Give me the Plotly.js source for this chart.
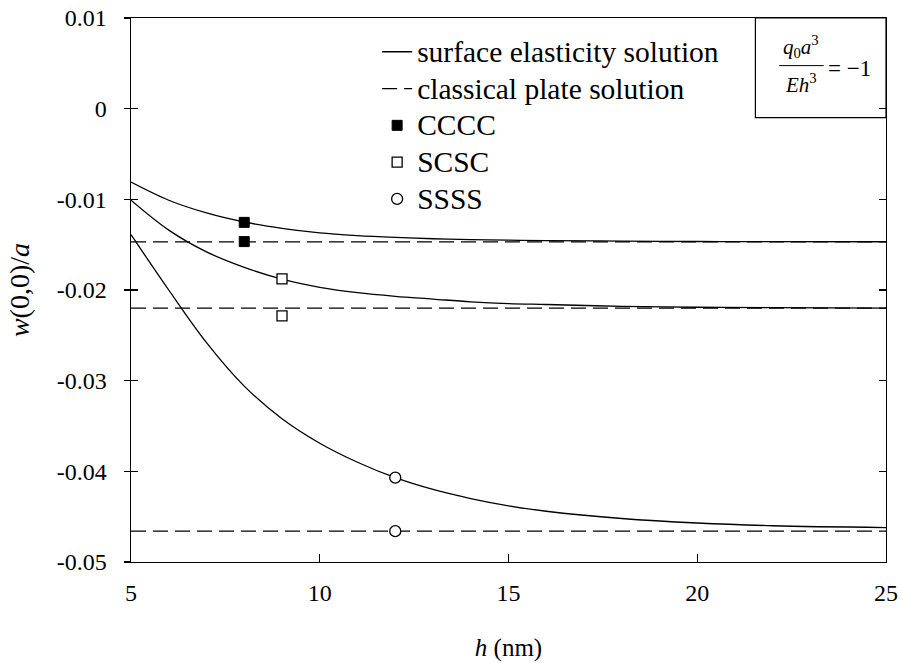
<!DOCTYPE html>
<html>
<head>
<meta charset="utf-8">
<script src="https://cdn.plot.ly/plotly-3.0.1.min.js"></script>
<style>html,body{margin:0;padding:0;background:#fff;}#chart{width:903px;height:663px;}</style>
</head>
<body>
<div id="chart"></div>
<script>
// thickness h (nm)
const hValues = [5, 6, 7, 8, 9, 10, 11, 12, 13, 14, 15, 16, 18, 20, 22, 25];
// surface elasticity solution w(0,0)/a
const surfCCCC = [-0.0081, -0.0101, -0.0115, -0.0125, -0.0132, -0.0137, -0.0140, -0.0142, -0.01435, -0.01445, -0.0145, -0.01455, -0.0146, -0.01465, -0.01467, -0.01468];
const surfSCSC = [-0.0101, -0.0134, -0.0158, -0.0175, -0.0188, -0.0197, -0.0203, -0.0207, -0.0210, -0.0213, -0.0215, -0.0216, -0.0218, -0.0219, -0.02195, -0.0220];
const surfSSSS = [-0.0139, -0.0200, -0.0258, -0.0306, -0.0342, -0.0369, -0.0390, -0.0407, -0.0420, -0.0430, -0.0438, -0.0444, -0.0452, -0.0457, -0.0460, -0.0462];
// classical plate solution (constant)
const classicalH = [5, 25];
const classicalCCCC = [-0.0147, -0.0147];
const classicalSCSC = [-0.0220, -0.0220];
const classicalSSSS = [-0.0466, -0.0466];
// discrete markers
const ptsCCCC_h = [8, 8];
const ptsCCCC_w = [-0.01254, -0.01466];
const ptsSCSC_h = [9, 9];
const ptsSCSC_w = [-0.01878, -0.02286];
const ptsSSSS_h = [12, 12];
const ptsSSSS_w = [-0.0407, -0.0466];
// ticks
const xTicks = [5, 10, 15, 20, 25];
const yTickVals = [0.01, 0, -0.01, -0.02, -0.03, -0.04, -0.05];
const yTickText = ["0.01", "0", "-0.01", "-0.02", "-0.03", "-0.04", "-0.05"];
// legend names
const legendNames = ["surface elasticity solution", "classical plate solution", "CCCC", "SCSC", "SSSS"];

const FONT = "Liberation Serif";
const big = s => '<span style="font-size:29.5px">' + s + '</span>';
const solid = {color: "#000", width: 1.3, shape: "spline", smoothing: 1};
const dashed = {color: "#000", width: 1.2, dash: "15px,7px"};

const traces = [
  {x: hValues, y: surfCCCC, mode: "lines", line: solid, name: big(legendNames[0]), legendgroup: "s"},
  {x: hValues, y: surfSCSC, mode: "lines", line: solid, showlegend: false, legendgroup: "s"},
  {x: hValues, y: surfSSSS, mode: "lines", line: solid, showlegend: false, legendgroup: "s"},
  {x: classicalH, y: classicalCCCC, mode: "lines", line: dashed, name: big(legendNames[1]), legendgroup: "c"},
  {x: classicalH, y: classicalSCSC, mode: "lines", line: dashed, showlegend: false, legendgroup: "c"},
  {x: classicalH, y: classicalSSSS, mode: "lines", line: dashed, showlegend: false, legendgroup: "c"},
  {x: ptsCCCC_h, y: ptsCCCC_w, mode: "markers", name: big(legendNames[2]),
   marker: {symbol: "square", size: 10, color: "#000", line: {color: "#000", width: 1}}},
  {x: ptsSCSC_h, y: ptsSCSC_w, mode: "markers", name: big(legendNames[3]),
   marker: {symbol: "square", size: 10, color: "#fff", line: {color: "#000", width: 1.3}}},
  {x: ptsSSSS_h, y: ptsSSSS_w, mode: "markers", name: big(legendNames[4]),
   marker: {symbol: "circle", size: 11, color: "#fff", line: {color: "#000", width: 1.3}}}
];

const layout = {
  width: 903, height: 663,
  margin: {l: 131, r: 17, t: 18, b: 101, pad: 0},
  paper_bgcolor: "#fff", plot_bgcolor: "#fff",
  font: {family: FONT, size: 24, color: "#000"},
  showlegend: true,
  legend: {x: 0.326, y: 0.981, xanchor: "left", yanchor: "top", bgcolor: "rgba(0,0,0,0)",
           font: {family: FONT, size: 26, color: "#000"}, tracegroupgap: 0, itemwidth: 30},
  xaxis: {
    range: [5, 25], tickvals: xTicks, ticktext: xTicks.map(String),
    ticks: "inside", ticklen: 8, tickwidth: 1.2, tickcolor: "#000",
    showline: true, linecolor: "#000", linewidth: 1.4, mirror: true,
    showgrid: false, zeroline: false, ticklabelstandoff: 9,
    tickfont: {family: FONT, size: 24},
    title: {text: "<i>h</i> (nm)", font: {family: FONT, size: 25}, standoff: 33}
  },
  yaxis: {
    range: [-0.05, 0.01], tickvals: yTickVals, ticktext: yTickText,
    ticks: "outside", ticklen: 6, tickwidth: 1.2, tickcolor: "#000",
    showline: true, linecolor: "#000", linewidth: 1.4, mirror: true,
    showgrid: false, zeroline: false, ticklabelstandoff: 12,
    tickfont: {family: FONT, size: 24},
    title: {text: "<i>w</i>(0,0)/<i>a</i>", font: {family: FONT, size: 28}, standoff: 19}
  },
  yaxis2: {
    range: [-0.05, 0.01], tickvals: yTickVals, overlaying: "y", side: "left",
    ticks: "inside", ticklen: 7, tickwidth: 1.2, tickcolor: "#000", mirror: "ticks",
    showticklabels: false, showline: false, showgrid: false, zeroline: false
  },
  shapes: [
    {type: "rect", xref: "x", yref: "y", x0: 21.54, x1: 25, y0: -0.00098, y1: 0.01,
     line: {color: "#000", width: 1.2}, fillcolor: "rgba(0,0,0,0)", layer: "above"},
    {type: "line", xref: "x", yref: "y", x0: 22.17, x1: 23.35, y0: 0.00475, y1: 0.00475,
     line: {color: "#000", width: 1}}
  ],
  annotations: [
    {xref: "x", yref: "y", x: 22.76, y: 0.0050, xanchor: "center", yanchor: "bottom", showarrow: false,
     text: "<i>q</i><sub>0</sub><i>a</i><sup>3</sup>", font: {family: FONT, size: 21}},
    {xref: "x", yref: "y", x: 22.76, y: 0.0045, xanchor: "center", yanchor: "top", showarrow: false,
     text: "<i>Eh</i><sup>3</sup>", font: {family: FONT, size: 21}},
    {xref: "x", yref: "y", x: 23.40, y: 0.00445, xanchor: "left", yanchor: "middle", showarrow: false,
     text: "= \u22121", font: {family: FONT, size: 23}}
  ]
};

// an invisible trace so yaxis2 (crossing ticks) is drawn
traces.push({x: [5], y: [0], yaxis: "y2", mode: "markers", marker: {opacity: 0}, showlegend: false, hoverinfo: "skip"});

Plotly.newPlot("chart", traces, layout, {displayModeBar: false, staticPlot: true});
</script>
</body>
</html>
